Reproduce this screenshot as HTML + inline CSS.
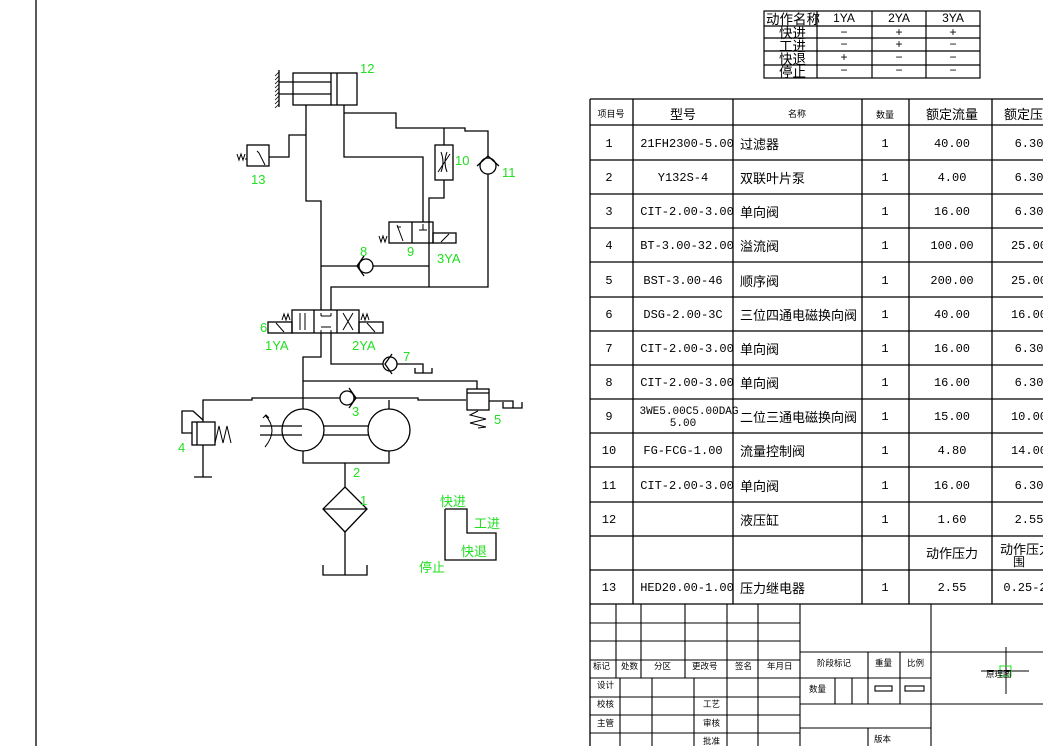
<!DOCTYPE html>
<html><head><meta charset="utf-8"><style>
html,body{margin:0;padding:0;background:#fff;}
svg{display:block;}
text{font-family:"Liberation Sans","Noto Sans CJK SC",sans-serif;fill:#000;}
.g{fill:#22e022;font-size:13px;}
.t{font-size:12px;text-anchor:middle;}
.m{font-family:"Liberation Mono","Noto Sans CJK SC",monospace;font-size:12px;text-anchor:middle;}
.n{font-size:13px;}
.s{font-size:9px;text-anchor:middle;}
</style></head><body>
<svg width="1043" height="746" viewBox="0 0 1043 746" xmlns="http://www.w3.org/2000/svg">
<rect width="1043" height="746" fill="#fff"/>
<g stroke="#000" stroke-width="1.3" fill="none">
<line x1="36" y1="0" x2="36" y2="746"/>
<rect x="293" y="73" width="64" height="32"/>
<line x1="331" y1="73" x2="331" y2="105"/><line x1="337" y1="73" x2="337" y2="105"/>
<line x1="279" y1="82" x2="331" y2="82"/><line x1="279" y1="94" x2="331" y2="94"/>
<line x1="279" y1="70" x2="279" y2="107"/>
<path d="M279 72l-4 4M279 76l-4 4M279 80l-4 4M279 84l-4 4M279 88l-4 4M279 92l-4 4M279 96l-4 4M279 100l-4 4M279 104l-4 4" stroke-width="0.8"/>
<polyline points="306,105 306,201 321,201 321,310"/>
<polyline points="306,135 289,135 289,157 269,157"/>
<rect x="247" y="145" width="22" height="21"/>
<path d="M237 154l2 6 2-6 2 6 2-6M245 159h2M257 151l2 2 6 12" stroke-width="1"/>
<polyline points="344,105 344,157 423,157 423,222"/>
<polyline points="344,113 396,113 396,128 465,128 465,131 488,131 488,157"/>
<circle cx="488" cy="166" r="8"/>
<path d="M477 166l11-10 11 10"/>
<polyline points="488,174 488,287 331,287 331,310"/>
<line x1="444" y1="128" x2="444" y2="145"/>
<rect x="435" y="145" width="18" height="35"/>
<path d="M441 152q4 10 0 20M447 152q-4 10 0 20M438 172l12-18" stroke-width="1"/>
<polyline points="444,180 444,198 429,198 429,287"/>
<rect x="389" y="222" width="44" height="21"/>
<line x1="412" y1="222" x2="412" y2="243"/>
<rect x="433" y="233" width="23" height="10"/>
<path d="M441 242l8-8M397 225l6 16M397 227h4M423 224v6M419 230h8M379 236l2 6 2-6 2 6 2-6" stroke-width="1"/>
<line x1="321" y1="266" x2="359" y2="266"/><line x1="373" y1="266" x2="429" y2="266"/>
<circle cx="366" cy="266" r="7"/><path d="M364 256l-7 10 7 10"/>
<rect x="292" y="310" width="67" height="23"/>
<line x1="314" y1="310" x2="314" y2="333"/><line x1="337" y1="310" x2="337" y2="333"/>
<rect x="268" y="322" width="24" height="11"/><rect x="359" y="322" width="24" height="11"/>
<path d="M300 313v17M305 313v17M343 313l10 17M353 313l-10 17M321 316h10M321 327h10M321 313v3M331 313v3M321 330v3M331 330v3M276 323l8 9M367 323l8 9M282 320l2-6 2 6 2-6 2 6M361 320l2-6 2 6 2-6 2 6" stroke-width="1"/>
<polyline points="321,333 321,357 303,357 303,409"/>
<polyline points="331,333 331,364 383,364"/>
<circle cx="390" cy="364" r="7"/><path d="M392 354l-7 10 7 10"/>
<polyline points="397,364 423,364 423,373"/>
<path d="M415 368v5h17v-5"/>
<polyline points="303,381 477,381 477,389"/>
<rect x="467" y="389" width="22" height="21"/>
<line x1="467" y1="393" x2="489" y2="393"/>
<path d="M478 411l-8 4 16 4-16 4 16 4-8 1" stroke-width="1"/>
<polyline points="489,401 513,401 513,408"/>
<path d="M503 402v6h19v-6"/>
<polyline points="203,422 203,400 252,400 252,398 340,398"/>
<polyline points="354,398 418,398 418,400 466,400"/>
<circle cx="347" cy="398" r="7"/><path d="M349 388l7 10-7 10"/>
<line x1="389" y1="400" x2="389" y2="409"/>
<circle cx="303" cy="430" r="21"/><circle cx="389" cy="430" r="21"/>
<path d="M324 426h44M324 435h44M260 426h42M260 435h42"/>
<path d="M265 415q14 15 0 32M263 418l3-3 3 3" stroke-width="1"/>
<polyline points="303,451 303,463 389,463 389,451"/>
<line x1="345" y1="463" x2="345" y2="487"/>
<path d="M345 487l22 22-22 23-22-23z"/><line x1="323" y1="509" x2="367" y2="509"/>
<line x1="345" y1="532" x2="345" y2="575"/>
<path d="M323 565v10h44v-10"/>
<rect x="192" y="422" width="23" height="23"/><line x1="197" y1="422" x2="197" y2="445"/>
<path d="M215 443l4-17 4 17 4-17 4 17" stroke-width="1"/>
<polyline points="192,433 182,433 182,411 193,411 203,420"/>
<polyline points="203,445 203,477"/><path d="M194 477h18"/>
<polyline points="445,509 467,509 467,533 496,533 496,560 445,560 445,509"/>
</g>
<text class="g" x="360" y="73">12</text>
<text class="g" x="251" y="184">13</text>
<text class="g" x="455" y="165">10</text>
<text class="g" x="502" y="177">11</text>
<text class="g" x="360" y="256">8</text>
<text class="g" x="407" y="256">9</text>
<text class="g" x="437" y="263">3YA</text>
<text class="g" x="260" y="332">6</text>
<text class="g" x="265" y="350">1YA</text>
<text class="g" x="352" y="350">2YA</text>
<text class="g" x="403" y="361">7</text>
<text class="g" x="352" y="416">3</text>
<text class="g" x="494" y="424">5</text>
<text class="g" x="178" y="452">4</text>
<text class="g" x="353" y="477">2</text>
<text class="g" x="360" y="505">1</text>
<text class="g" x="440" y="506">快进</text>
<text class="g" x="474" y="528">工进</text>
<text class="g" x="461" y="556">快退</text>
<text class="g" x="419" y="572">停止</text>

<g stroke="#000" stroke-width="1.2" fill="none">
<rect x="764" y="11" width="216" height="67"/>
<line x1="764" y1="26" x2="980" y2="26"/><line x1="764" y1="38" x2="980" y2="38"/>
<line x1="764" y1="51" x2="980" y2="51"/><line x1="764" y1="65" x2="980" y2="65"/>
<line x1="817" y1="11" x2="817" y2="78"/><line x1="872" y1="11" x2="872" y2="78"/><line x1="926" y1="11" x2="926" y2="78"/>
</g>
<g>
<text x="766" y="24" style="font-size:13.5px">动作名称</text>
<text class="t" x="844" y="22">1YA</text><text class="t" x="899" y="22">2YA</text><text class="t" x="953" y="22">3YA</text>
<text x="779" y="38" style="font-size:13.5px">快进</text><text class="t" x="844" y="36">−</text><text class="t" x="899" y="36">+</text><text class="t" x="953" y="36">+</text>
<text x="779" y="51" style="font-size:13.5px">工进</text><text class="t" x="844" y="48">−</text><text class="t" x="899" y="48">+</text><text class="t" x="953" y="48">−</text>
<text x="779" y="64" style="font-size:13.5px">快退</text><text class="t" x="844" y="61">+</text><text class="t" x="899" y="61">−</text><text class="t" x="953" y="61">−</text>
<text x="779" y="77" style="font-size:13.5px">停止</text><text class="t" x="844" y="74">−</text><text class="t" x="899" y="74">−</text><text class="t" x="953" y="74">−</text>
</g>

<g stroke="#000" stroke-width="1.3" fill="none">
<path d="M590 99H1043M590 125H1043M590 160H1043M590 194H1043M590 228H1043M590 262H1043M590 297H1043M590 331H1043M590 365H1043M590 399H1043M590 433H1043M590 467H1043M590 502H1043M590 536H1043M590 570H1043M590 604H1043"/>
<path d="M590 99V746M633 99V604M733 99V604M862 99V604M909 99V604M992 99V604"/>
</g>
<g class="n">
<text class="s" x="611" y="117">项目号</text>
<text class="t" x="683" y="119" style="font-size:13px">型号</text>
<text class="s" x="797" y="117">名称</text>
<text class="s" x="885" y="118">数量</text>
<text class="t" x="952" y="119" style="font-size:13px">额定流量</text>
<text x="1004" y="119" style="font-size:13px">额定压</text>

<text class="m" x="609" y="147">1</text><text class="m" x="687" y="147">21FH2300-5.00</text><text x="740" y="149">过滤器</text><text class="m" x="885" y="147">1</text><text class="m" x="952" y="147">40.00</text><text class="m" x="1029" y="147">6.30</text>
<text class="m" x="609" y="181">2</text><text class="m" x="683" y="181">Y132S-4</text><text x="740" y="183">双联叶片泵</text><text class="m" x="885" y="181">1</text><text class="m" x="952" y="181">4.00</text><text class="m" x="1029" y="181">6.30</text>
<text class="m" x="609" y="215">3</text><text class="m" x="687" y="215">CIT-2.00-3.00</text><text x="740" y="217">单向阀</text><text class="m" x="885" y="215">1</text><text class="m" x="952" y="215">16.00</text><text class="m" x="1029" y="215">6.30</text>
<text class="m" x="609" y="249">4</text><text class="m" x="687" y="249">BT-3.00-32.00</text><text x="740" y="251">溢流阀</text><text class="m" x="885" y="249">1</text><text class="m" x="952" y="249">100.00</text><text class="m" x="1029" y="249">25.00</text>
<text class="m" x="609" y="284">5</text><text class="m" x="683" y="284">BST-3.00-46</text><text x="740" y="286">顺序阀</text><text class="m" x="885" y="284">1</text><text class="m" x="952" y="284">200.00</text><text class="m" x="1029" y="284">25.00</text>
<text class="m" x="609" y="318">6</text><text class="m" x="683" y="318">DSG-2.00-3C</text><text x="740" y="320">三位四通电磁换向阀</text><text class="m" x="885" y="318">1</text><text class="m" x="952" y="318">40.00</text><text class="m" x="1029" y="318">16.00</text>
<text class="m" x="609" y="352">7</text><text class="m" x="687" y="352">CIT-2.00-3.00</text><text x="740" y="354">单向阀</text><text class="m" x="885" y="352">1</text><text class="m" x="952" y="352">16.00</text><text class="m" x="1029" y="352">6.30</text>
<text class="m" x="609" y="386">8</text><text class="m" x="687" y="386">CIT-2.00-3.00</text><text x="740" y="388">单向阀</text><text class="m" x="885" y="386">1</text><text class="m" x="952" y="386">16.00</text><text class="m" x="1029" y="386">6.30</text>
<text class="m" x="609" y="420">9</text><text class="m" x="689" y="414" style="font-size:11px">3WE5.00C5.00DAG</text><text class="m" x="683" y="426" style="font-size:11px">5.00</text><text x="740" y="422">二位三通电磁换向阀</text><text class="m" x="885" y="420">1</text><text class="m" x="952" y="420">15.00</text><text class="m" x="1029" y="420">10.00</text>
<text class="m" x="609" y="454">10</text><text class="m" x="683" y="454">FG-FCG-1.00</text><text x="740" y="456">流量控制阀</text><text class="m" x="885" y="454">1</text><text class="m" x="952" y="454">4.80</text><text class="m" x="1029" y="454">14.00</text>
<text class="m" x="609" y="489">11</text><text class="m" x="687" y="489">CIT-2.00-3.00</text><text x="740" y="491">单向阀</text><text class="m" x="885" y="489">1</text><text class="m" x="952" y="489">16.00</text><text class="m" x="1029" y="489">6.30</text>
<text class="m" x="609" y="523">12</text><text x="740" y="525">液压缸</text><text class="m" x="885" y="523">1</text><text class="m" x="952" y="523">1.60</text><text class="m" x="1029" y="523">2.55</text>
<text class="t" x="952" y="558" style="font-size:13px">动作压力</text><text x="1000" y="554" style="font-size:13px">动作压力</text><text x="1013" y="566" style="font-size:12px">围</text>
<text class="m" x="609" y="591">13</text><text class="m" x="687" y="591">HED20.00-1.00</text><text x="740" y="593">压力继电器</text><text class="m" x="885" y="591">1</text><text class="m" x="952" y="591">2.55</text><text class="m" x="1025" y="591">0.25-2</text>
</g>

<g stroke="#000" stroke-width="1.1" fill="none">
<path d="M590 623H800M590 641H800M590 660H800M590 678H800M590 697H800M590 715H800M590 733H800"/>
<path d="M616 604V678M641 604V678M685 604V678M727 604V746M758 604V746M800 604V746"/>
<path d="M620 678V746M652 678V746M694 678V746"/>
<path d="M931 604V746M800 652H1043M800 678H931M800 704H1043M800 728H931"/>
<path d="M868 652V704M900 652V704M835 678V704M852 678V704M868 728V746"/>
<rect x="875" y="686" width="17" height="5"/><rect x="905" y="686" width="19" height="5"/>
<path d="M1006 647V694M981 671H1029" stroke-width="1"/>
</g>
<rect x="1000" y="666" width="11" height="10" fill="none" stroke="#22e022"/>
<g font-size="8.5">
<text x="593" y="669">标记</text><text x="621" y="669">处数</text><text x="654" y="669">分区</text><text x="692" y="669">更改号</text><text x="735" y="669">签名</text><text x="767" y="669">年月日</text>
<text x="597" y="688">设计</text><text x="597" y="707">校核</text><text x="597" y="726">主管</text>
<text x="703" y="707">工艺</text><text x="703" y="726">审核</text><text x="703" y="744">批准</text>
<text x="817" y="666">阶段标记</text><text x="875" y="666">重量</text><text x="907" y="666">比例</text>
<text x="809" y="692">数量</text><text x="874" y="742">版本</text>
<text x="986" y="677">原理图</text>
</g>
</svg>
</body></html>
